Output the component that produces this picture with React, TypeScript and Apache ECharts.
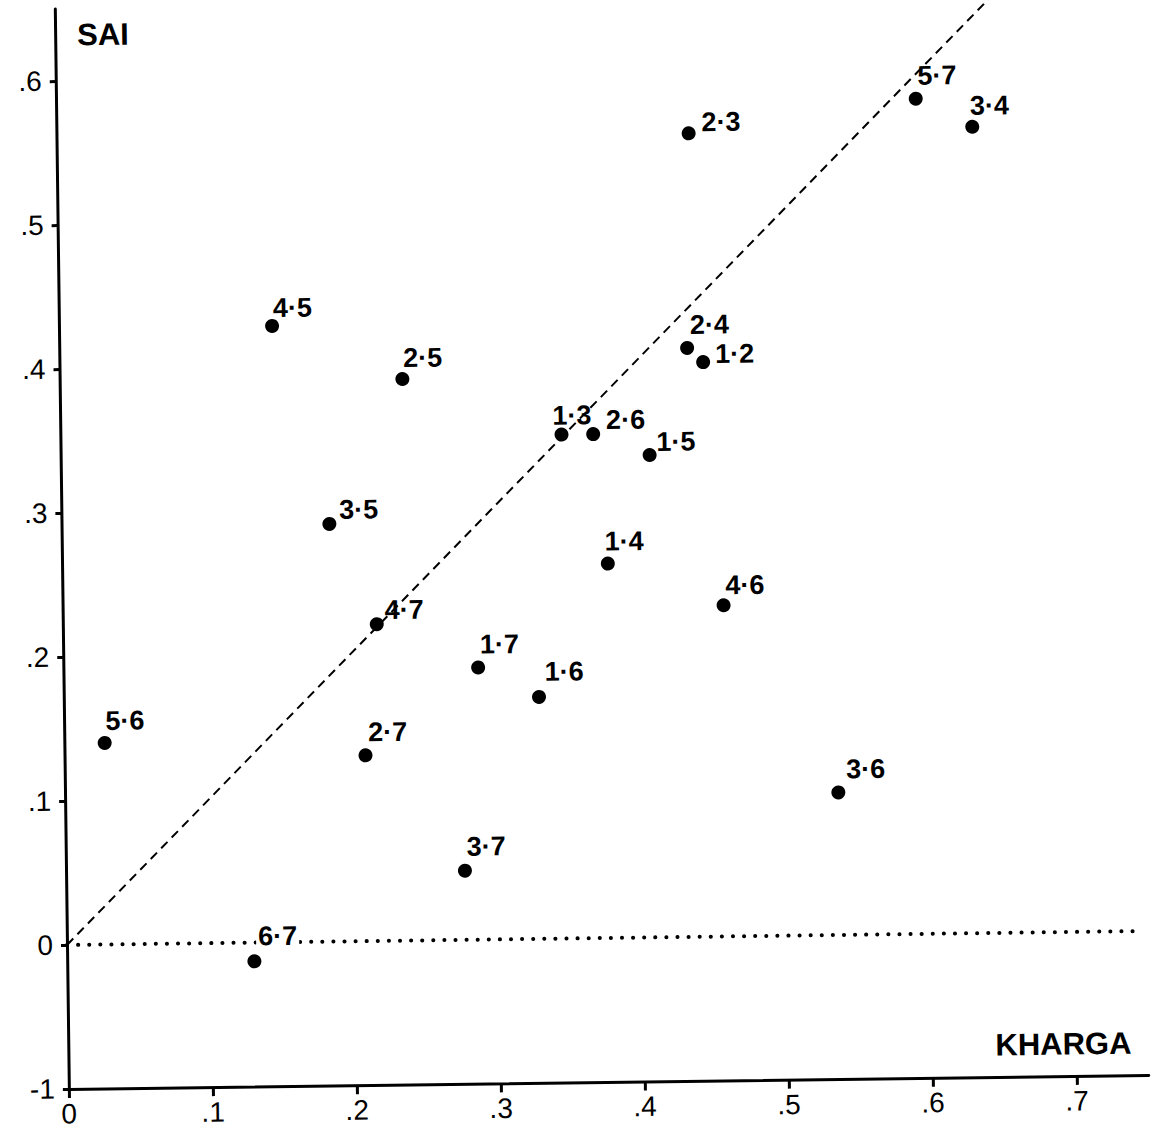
import React, { useEffect, useRef } from 'react';
import * as echarts from 'echarts';

// ---- data ----
const pairLabels = ['4·5', '2·5', '3·5', '2·4', '1·2', '1·3', '2·6', '1·5', '4·7', '1·7', '1·6', '5·6', '2·7', '3·7', '1·4', '4·6', '3·6', '2·3', '5·7', '3·4', '6·7'];
const khargaValues = [0.148, 0.238, 0.186, 0.436, 0.447, 0.348, 0.37, 0.409, 0.218, 0.288, 0.33, 0.028, 0.209, 0.277, 0.379, 0.459, 0.537, 0.439, 0.597, 0.636, 0.13];
const saiValues = [0.428, 0.39, 0.29, 0.409, 0.399, 0.35, 0.35, 0.335, 0.22, 0.189, 0.168, 0.14, 0.129, 0.048, 0.26, 0.23, 0.099, 0.558, 0.58, 0.56, -0.013];

const xTickValues = [0, 0.1, 0.2, 0.3, 0.4, 0.5, 0.6, 0.7];
const xTickLabels = ['0', '.1', '.2', '.3', '.4', '.5', '.6', '.7'];
const yTickValues = [-0.1, 0, 0.1, 0.2, 0.3, 0.4, 0.5, 0.6];
const yTickLabels = ['-1', '0', '.1', '.2', '.3', '.4', '.5', '.6'];

// reference lines
const equalityLineX = [0, 0.65];
const equalityLineY = [0, 0.65];
const zeroLineX = [0, 0.745];
const zeroLineY = [0, 0];

// ---- label layout (offset of label's left edge / vertical centre from the dot centre) ----
const defaultLabelOffset: [number, number] = [3, -21];
const labelOffsets: Record<string, [number, number]> = {
  '4·5': [1, -18],
  '2·5': [1, -21],
  '3·5': [10, -14],
  '2·4': [3, -23],
  '1·2': [12, -8],
  '1·3': [-9, -19],
  '2·6': [13, -14],
  '1·5': [7, -13],
  '4·7': [8, -14],
  '1·7': [2, -23],
  '1·6': [6, -25],
  '5·6': [1, -22],
  '2·7': [3, -23],
  '3·7': [2, -24],
  '1·4': [-3, -22],
  '4·6': [2, -20],
  '3·6': [8, -23],
  '2·3': [13, -11],
  '5·7': [2, -23],
  '3·4': [-2, -21],
  '6·7': [2, -25],
};

const FONT = '"Liberation Sans", Arial, Helvetica, sans-serif';
const SYMBOL = 14;

const tickFormatter = (vals: number[], labs: string[]) => (v: number) => {
  const i = vals.findIndex((t) => Math.abs(t - v) < 1e-9);
  return i >= 0 ? labs[i] : '';
};

export default function App() {
  const ref = useRef<HTMLDivElement>(null);

  useEffect(() => {
    if (!ref.current) return;
    const chart = echarts.init(ref.current, undefined, { renderer: 'svg' });

    const scatterData = pairLabels.map((name, i) => {
      const off = labelOffsets[name] || defaultLabelOffset;
      const label: any = {
        position: [off[0] + SYMBOL / 2, off[1] + SYMBOL / 2],
      };
      if (name === '6·7') {
        label.backgroundColor = '#ffffff';
        label.padding = [0, 2];
      }
      return { name, value: [khargaValues[i], saiValues[i]], label };
    });

    const axisCommon = {
      type: 'value' as const,
      splitLine: { show: false },
      axisLine: { show: true, onZero: false, lineStyle: { color: '#000', width: 3 } },
    };

    chart.setOption({
      animation: false,
      backgroundColor: '#ffffff',
      grid: { left: 67, right: 4, top: 9, bottom: 48, containLabel: false, outerBoundsMode: 'none' },
      xAxis: {
        ...axisCommon,
        min: 0,
        max: 0.75,
        axisTick: { show: true, customValues: xTickValues, length: 9, lineStyle: { color: '#000', width: 3 } },
        axisLabel: {
          customValues: xTickValues,
          formatter: tickFormatter(xTickValues, xTickLabels),
          margin: 11,
          fontSize: 28,
          color: '#000',
          fontFamily: FONT,
        },
      },
      yAxis: {
        ...axisCommon,
        min: -0.1,
        max: 0.65,
        axisTick: { show: true, customValues: yTickValues, length: 6, lineStyle: { color: '#000', width: 3 } },
        axisLabel: {
          customValues: yTickValues,
          formatter: tickFormatter(yTickValues, yTickLabels),
          margin: 14,
          fontSize: 28,
          color: '#000',
          fontFamily: FONT,
        },
      },
      series: [
        {
          type: 'line',
          data: equalityLineX.map((x, i) => [x, equalityLineY[i]]),
          symbol: 'none',
          silent: true,
          clip: true,
          lineStyle: { color: '#000', width: 2, type: [9, 6], opacity: 1 },
          z: 1,
        },
        {
          type: 'line',
          data: zeroLineX.map((x, i) => [x, zeroLineY[i]]),
          symbol: 'none',
          silent: true,
          lineStyle: { color: '#000', width: 4, type: [0.1, 11], cap: 'round', opacity: 1 },
          z: 1,
        },
        {
          type: 'scatter',
          symbol: 'circle',
          symbolSize: SYMBOL,
          itemStyle: { color: '#000', opacity: 1 },
          z: 3,
          label: {
            show: true,
            formatter: '{b}',
            align: 'left',
            verticalAlign: 'middle',
            fontFamily: FONT,
            fontWeight: 'bold',
            fontSize: 27,
            color: '#000',
          },
          data: scatterData,
        },
      ],
      graphic: [
        {
          type: 'text',
          x: 89,
          y: 35,
          style: {
            text: 'SAI',
            fontFamily: FONT,
            fontWeight: 'bold',
            fontSize: 31,
            fill: '#000',
            align: 'left',
            verticalAlign: 'middle',
          },
        },
        {
          type: 'text',
          x: 994,
          y: 1057,
          style: {
            text: 'KHARGA',
            fontFamily: FONT,
            fontWeight: 'bold',
            fontSize: 31,
            fill: '#000',
            align: 'left',
            verticalAlign: 'middle',
          },
        },
      ],
    });

    return () => chart.dispose();
  }, []);

  return (
    <div
      ref={ref}
      style={{
        position: 'absolute',
        left: 0,
        top: 0,
        width: 1151,
        height: 1137,
        transform: 'rotate(-0.745deg)',
        transformOrigin: '67px 946px',
        background: '#fff',
      }}
    />
  );
}
